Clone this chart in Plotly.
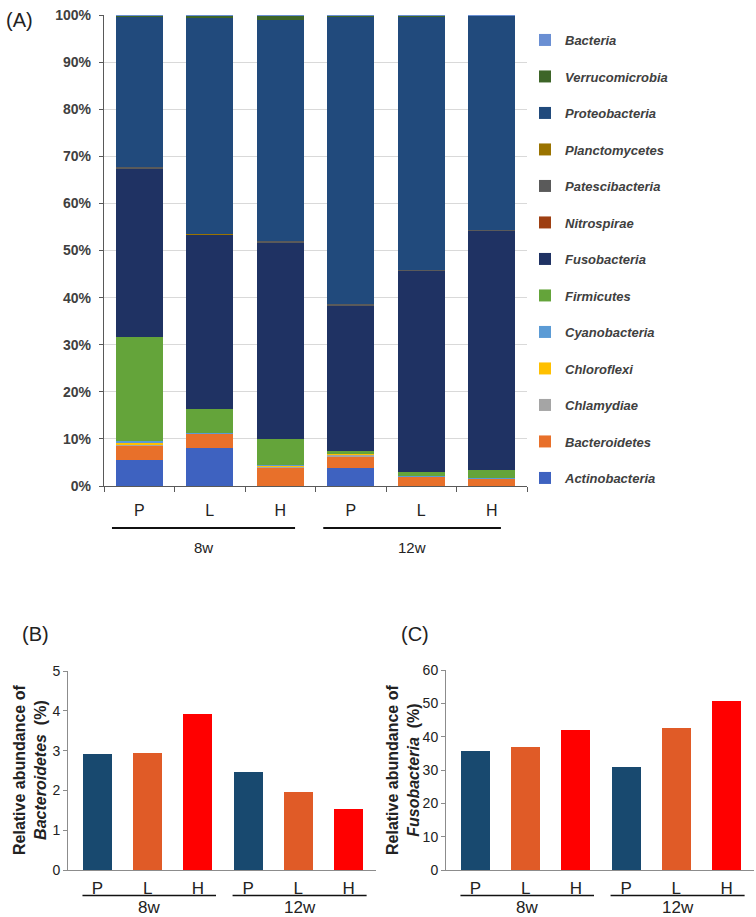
import plotly.graph_objects as go

# ---------------- data ----------------
groups = ["P", "L", "H", "P", "L", "H"]
weeks = ["8w", "12w"]
phyla = ["Actinobacteria", "Bacteroidetes", "Chlamydiae", "Chloroflexi", "Cyanobacteria",
         "Firmicutes", "Fusobacteria", "Nitrospirae", "Patescibacteria", "Planctomycetes",
         "Proteobacteria", "Verrucomicrobia", "Bacteria"]
Actinobacteria = [5.6, 8.1, 0.1, 3.8, 0.05, 0.05]
Bacteroidetes = [2.9, 2.95, 3.9, 2.45, 1.95, 1.55]
Chlamydiae = [0.3, 0.05, 0.05, 0.5, 0.05, 0.05]
Chloroflexi = [0.3, 0.05, 0.3, 0.05, 0.0, 0.0]
Cyanobacteria = [0.5, 0.05, 0.05, 0.1, 0.05, 0.05]
Firmicutes = [22.1, 5.1, 5.5, 0.6, 0.9, 1.7]
Fusobacteria = [35.8, 37.0, 41.9, 30.9, 42.7, 50.8]
Nitrospirae = [0.0, 0.0, 0.0, 0.0, 0.0, 0.0]
Patescibacteria = [0.2, 0.2, 0.2, 0.2, 0.1, 0.1]
Planctomycetes = [0.0, 0.1, 0.0, 0.0, 0.0, 0.0]
Proteobacteria = [32.0, 45.8, 47.0, 61.0, 53.9, 45.5]
Verrucomicrobia = [0.1, 0.5, 0.9, 0.2, 0.1, 0.1]
Bacteria = [0.05, 0.05, 0.05, 0.05, 0.05, 0.05]
series = [Actinobacteria, Bacteroidetes, Chlamydiae, Chloroflexi, Cyanobacteria, Firmicutes,
          Fusobacteria, Nitrospirae, Patescibacteria, Planctomycetes, Proteobacteria,
          Verrucomicrobia, Bacteria]
colors = ["#3E62C0", "#E8702A", "#A5A5A5", "#FFC000", "#5B9BD5", "#64A43A", "#1F3263",
          "#9E3F12", "#5A5A5A", "#9A7300", "#214A7C", "#3D6528", "#6A8FD3"]

bacteroidetes_pct = [2.92, 2.95, 3.93, 2.47, 1.95, 1.53]
fusobacteria_pct = [35.8, 37.0, 41.9, 30.9, 42.7, 50.8]
bar_colors = ["#18496F", "#E05B27", "#FF0000", "#18496F", "#E05B27", "#FF0000"]

pct_ticks = list(range(0, 101, 10))
pct_labels = [f"{v}%" for v in pct_ticks]

xpos = list(range(6))
FONT = "Liberation Sans, Arial, sans-serif"
W, H = 756, 917


def py(p):
    return 1 - p / H


def px(p):
    return p / W


fig = go.Figure()

n = len(phyla)
for i, (name, vals, col) in enumerate(zip(phyla, series, colors)):
    fig.add_trace(go.Bar(x=xpos, y=vals, name=name, marker=dict(color=col, line=dict(width=0)),
                         width=0.667, xaxis="x", yaxis="y", legendrank=n - i, legendgroup=name))

fig.add_trace(go.Bar(x=xpos, y=bacteroidetes_pct, marker=dict(color=bar_colors, line=dict(width=0)),
                     width=0.58, xaxis="x2", yaxis="y2", showlegend=False))
fig.add_trace(go.Bar(x=xpos, y=fusobacteria_pct, marker=dict(color=bar_colors, line=dict(width=0)),
                     width=0.58, xaxis="x3", yaxis="y3", showlegend=False))

axis_dark = "#595959"
small_axis = "#8C8C8C"

fig.update_layout(
    width=W, height=H, margin=dict(l=0, r=0, t=0, b=0, autoexpand=False),
    plot_bgcolor="white", paper_bgcolor="white",
    barmode="stack", bargap=0,
    font=dict(family=FONT, color="#222222"),
    showlegend=True,
    legend=dict(x=px(525), y=py(25), xanchor="left", yanchor="top",
                traceorder="grouped", tracegroupgap=16.6,
                font=dict(family=FONT, size=13, color="#404040", weight="bold", style="italic"),
                itemwidth=30, bgcolor="rgba(0,0,0,0)"),
    xaxis=dict(domain=[px(104), px(527)], range=[-0.5, 5.5], anchor="y",
               tickvals=xpos, ticktext=groups, ticks="", ticklabelstandoff=10,
               tickfont=dict(family=FONT, size=16, color="#222222"),
               showline=True, linecolor=axis_dark, linewidth=1.3, showgrid=False, zeroline=False,
               minor=dict(tickvals=[-0.5, 0.5, 1.5, 2.5, 3.5, 4.5, 5.5], ticks="outside",
                          ticklen=5, tickcolor=axis_dark, tickwidth=1.3, showgrid=False)),
    yaxis=dict(domain=[py(486), py(15)], range=[0, 100], anchor="x",
               tickvals=pct_ticks, ticktext=pct_labels, ticklabelstandoff=5,
               ticks="outside", ticklen=4, tickcolor=axis_dark, tickwidth=1.3,
               tickfont=dict(family=FONT, size=14, color="#404040", weight="bold"),
               showline=True, linecolor=axis_dark, linewidth=1.3,
               showgrid=True, gridcolor="#D9D9D9", gridwidth=1, zeroline=False),
    xaxis2=dict(domain=[px(68), px(376)], range=[-0.588, 5.547], anchor="y2",
                tickvals=xpos, ticktext=groups, ticks="", ticklabelstandoff=3,
                tickfont=dict(family=FONT, size=17, color="#222222"),
                showline=True, linecolor=small_axis, linewidth=1, showgrid=False, zeroline=False),
    yaxis2=dict(domain=[py(870), py(671)], range=[0, 5], anchor="x2",
                tickvals=[0, 1, 2, 3, 4, 5], ticks="outside", ticklen=4, tickcolor=small_axis,
                tickfont=dict(family=FONT, size=14, color="#222222"),
                showline=True, linecolor=small_axis, linewidth=1, showgrid=False, zeroline=False),
    xaxis3=dict(domain=[px(446), px(754)], range=[-0.588, 5.547], anchor="y3",
                tickvals=xpos, ticktext=groups, ticks="", ticklabelstandoff=3,
                tickfont=dict(family=FONT, size=17, color="#222222"),
                showline=True, linecolor=small_axis, linewidth=1, showgrid=False, zeroline=False),
    yaxis3=dict(domain=[py(870), py(670)], range=[0, 60], anchor="x3",
                tickvals=[0, 10, 20, 30, 40, 50, 60], ticks="outside", ticklen=4, tickcolor=small_axis,
                tickfont=dict(family=FONT, size=14, color="#222222"),
                showline=True, linecolor=small_axis, linewidth=1, showgrid=False, zeroline=False),
)

annotations = []
shapes = []

# panel labels
for txt, x, y in [("(A)", 4, 20), ("(B)", 20, 634), ("(C)", 399, 634)]:
    annotations.append(dict(text=txt, x=px(x), y=py(y), xref="paper", yref="paper",
                            xanchor="left", yanchor="middle", showarrow=False,
                            font=dict(family=FONT, size=20, color="#222222")))

# group lines and labels, top panel
for (x0, x1), wk in zip([(-0.387, 2.21), (2.61, 5.13)], weeks):
    shapes.append(dict(type="line", xref="x", yref="paper", x0=x0, x1=x1, y0=py(528), y1=py(528),
                       line=dict(color="#111111", width=2)))
    annotations.append(dict(text=wk, x=(x0 + x1) / 2, y=py(547), xref="x", yref="paper",
                            xanchor="center", yanchor="middle", showarrow=False,
                            font=dict(family=FONT, size=15, color="#222222")))

# group lines and labels, bottom panels
for xr in ["x2", "x3"]:
    for (x0, x1), wk in zip([(-0.3, 2.36), (2.69, 5.36)], weeks):
        shapes.append(dict(type="line", xref=xr, yref="paper", x0=x0, x1=x1, y0=py(895.5), y1=py(895.5),
                           line=dict(color="#111111", width=1.5)))
        annotations.append(dict(text=wk, x=(x0 + x1) / 2, y=py(907), xref=xr, yref="paper",
                                xanchor="center", yanchor="middle", showarrow=False,
                                font=dict(family=FONT, size=17, color="#222222")))

# y titles bottom panels
for x, phy in [(30, "Bacteroidetes"), (403, "Fusobacteria")]:
    annotations.append(dict(text=f"<b>Relative abundance of</b><br><b><i>{phy}</i>  (%)</b>",
                            x=px(x), y=py(770), xref="paper", yref="paper", textangle=-90,
                            xanchor="center", yanchor="middle", showarrow=False,
                            font=dict(family=FONT, size=16, color="#222222")))

fig.update_layout(annotations=annotations, shapes=shapes)
fig.write_html("out.html")
